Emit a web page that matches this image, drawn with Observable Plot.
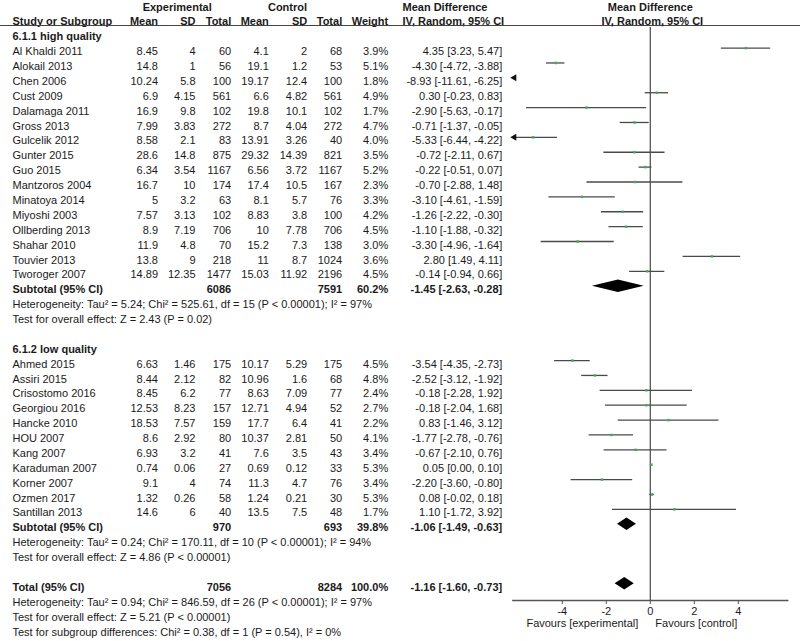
<!DOCTYPE html>
<html>
<head>
<meta charset="utf-8">
<script src="https://cdn.jsdelivr.net/npm/d3@7"></script>
<script src="https://cdn.jsdelivr.net/npm/@observablehq/plot@0.6"></script>
<style>
  html, body { margin: 0; padding: 0; background: #fff; }
  #chart { position: relative; width: 800px; height: 641px; overflow: hidden; }
  #chart svg { position: absolute; left: 0; top: 0; }
</style>
</head>
<body>
<div id="chart"></div>
<script>
// ---------- data ----------
const studies1 = ["Al Khaldi 2011","Alokail 2013","Chen 2006","Cust 2009","Dalamaga 2011","Gross 2013","Gulcelik 2012","Gunter 2015","Guo 2015","Mantzoros 2004","Minatoya 2014","Miyoshi 2003","Ollberding 2013","Shahar 2010","Touvier 2013","Tworoger 2007"];
const expMean1 = [8.45,14.8,10.24,6.9,16.9,7.99,8.58,28.6,6.34,16.7,5,7.57,8.9,11.9,13.8,14.89];
const expSD1   = [4,1,5.8,4.15,9.8,3.83,2.1,14.8,3.54,10,3.2,3.13,7.19,4.8,9,12.35];
const expN1    = [60,56,100,561,102,272,83,875,1167,174,63,102,706,70,218,1477];
const ctlMean1 = [4.1,19.1,19.17,6.6,19.8,8.7,13.91,29.32,6.56,17.4,8.1,8.83,10,15.2,11,15.03];
const ctlSD1   = [2,1.2,12.4,4.82,10.1,4.04,3.26,14.39,3.72,10.5,5.7,3.8,7.78,7.3,8.7,11.92];
const ctlN1    = [68,53,100,561,102,272,40,821,1167,167,76,100,706,138,1024,2196];
const weight1  = [3.9,5.1,1.8,4.9,1.7,4.7,4.0,3.5,5.2,2.3,3.3,4.2,4.5,3.0,3.6,4.5];
const md1      = [4.35,-4.30,-8.93,0.30,-2.90,-0.71,-5.33,-0.72,-0.22,-0.70,-3.10,-1.26,-1.10,-3.30,2.80,-0.14];
const lo1      = [3.23,-4.72,-11.61,-0.23,-5.63,-1.37,-6.44,-2.11,-0.51,-2.88,-4.61,-2.22,-1.88,-4.96,1.49,-0.94];
const hi1      = [5.47,-3.88,-6.25,0.83,-0.17,-0.05,-4.22,0.67,0.07,1.48,-1.59,-0.30,-0.32,-1.64,4.11,0.66];

const studies2 = ["Ahmed 2015","Assiri 2015","Crisostomo 2016","Georgiou 2016","Hancke 2010","HOU 2007","Kang 2007","Karaduman 2007","Korner 2007","Ozmen 2017","Santillan 2013"];
const expMean2 = [6.63,8.44,8.45,12.53,18.53,8.6,6.93,0.74,9.1,1.32,14.6];
const expSD2   = [1.46,2.12,6.2,8.23,7.57,2.92,3.2,0.06,4,0.26,6];
const expN2    = [175,82,77,157,159,80,41,27,74,58,40];
const ctlMean2 = [10.17,10.96,8.63,12.71,17.7,10.37,7.6,0.69,11.3,1.24,13.5];
const ctlSD2   = [5.29,1.6,7.09,4.94,6.4,2.81,3.5,0.12,4.7,0.21,7.5];
const ctlN2    = [175,68,77,52,41,50,43,33,76,30,48];
const weight2  = [4.5,4.8,2.4,2.7,2.2,4.1,3.4,5.3,3.4,5.3,1.7];
const md2      = [-3.54,-2.52,-0.18,-0.18,0.83,-1.77,-0.67,0.05,-2.20,0.08,1.10];
const lo2      = [-4.35,-3.12,-2.28,-2.04,-1.46,-2.78,-2.10,0.00,-3.60,-0.02,-1.72];
const hi2      = [-2.73,-1.92,1.92,1.68,3.12,-0.76,0.76,0.10,-0.80,0.18,3.92];

const pooledLabels = ["Subtotal (95% CI)","Subtotal (95% CI)","Total (95% CI)"];
const pooledExpN   = [6086,970,7056];
const pooledCtlN   = [7591,693,8284];
const pooledWeight = [60.2,39.8,100.0];
const pooledMd     = [-1.45,-1.06,-1.16];
const pooledLo     = [-2.63,-1.49,-1.60];
const pooledHi     = [-0.28,-0.63,-0.73];

const groupLabels = ["6.1.1 high quality","6.1.2 low quality"];
const statNotes1 = ["Heterogeneity: Tau\u00B2 = 5.24; Chi\u00B2 = 525.61, df = 15 (P < 0.00001); I\u00B2 = 97%","Test for overall effect: Z = 2.43 (P = 0.02)"];
const statNotes2 = ["Heterogeneity: Tau\u00B2 = 0.24; Chi\u00B2 = 170.11, df = 10 (P < 0.00001); I\u00B2 = 94%","Test for overall effect: Z = 4.86 (P < 0.00001)"];
const statNotesT = ["Heterogeneity: Tau\u00B2 = 0.94; Chi\u00B2 = 846.59, df = 26 (P < 0.00001); I\u00B2 = 97%","Test for overall effect: Z = 5.21 (P < 0.00001)","Test for subgroup differences: Chi\u00B2 = 0.38, df = 1 (P = 0.54), I\u00B2 = 0%"];

const groupHeaders = ["Experimental","Control"];
const colHeaders = ["Study or Subgroup","Mean","SD","Total","Mean","SD","Total","Weight"];
const mdTitle = ["Mean Difference","IV, Random, 95% CI"];
const axisTicks = [-4,-2,0,2,4];
const favours = ["Favours [experimental]","Favours [control]"];

// ---------- build row table ----------
const studyRows = [];
let r = 0;
const groupRowIdx = [];
const pooledRowIdx = [];
const noteRows = [];
function addGroup(names, em, es, en, cm, cs, cn, w, md, lo, hi, notes) {
  groupRowIdx.push(r); r++;
  names.forEach((n, i) => {
    studyRows.push({row: r, name: n, em: em[i], es: es[i], en: en[i], cm: cm[i], cs: cs[i], cn: cn[i], w: w[i], md: md[i], lo: lo[i], hi: hi[i]});
    r++;
  });
  pooledRowIdx.push(r); r++;
  notes.forEach(t => { noteRows.push({row: r, text: t}); r++; });
  r++; // blank
}
addGroup(studies1, expMean1, expSD1, expN1, ctlMean1, ctlSD1, ctlN1, weight1, md1, lo1, hi1, statNotes1);
addGroup(studies2, expMean2, expSD2, expN2, ctlMean2, ctlSD2, ctlN2, weight2, md2, lo2, hi2, statNotes2);
pooledRowIdx.push(r); r++;
statNotesT.forEach(t => { noteRows.push({row: r, text: t}); r++; });

const pooled = pooledLabels.map((l, i) => ({row: pooledRowIdx[i], name: l, en: pooledExpN[i], cn: pooledCtlN[i], w: pooledWeight[i], md: pooledMd[i], lo: pooledLo[i], hi: pooledHi[i]}));
const groups = groupLabels.map((g, i) => ({row: groupRowIdx[i], name: g}));

const fmtCI = d => `${d.md.toFixed(2)} [${d.lo.toFixed(2)}, ${d.hi.toFixed(2)}]`;
const fmtW = d => d.w.toFixed(1) + "%";

// ---------- layout ----------
const W = 800, H = 641;
const FONT = "Liberation Sans, Arial, Helvetica, sans-serif";
const FS = 11;
const TXT = "#1a1a1a";
const yScale = {type: "linear", domain: [0, 40], range: [36.3, 631.5], axis: null};
const colX = {name: 12, em: 157.5, es: 195, en: 230.7, cm: 268.3, cs: 306.7, cn: 341.7, w: 387.7, ci: 501.7, mdHead: 402};
const numCols = ["em","es","en","cm","cs","cn"];
const headerCols = ["em","es","en","cm","cs","cn","w"];
const groupHeaderX = [176.7, 287];

const tableMarks = [];
tableMarks.push(Plot.text(groupHeaders, {x: (d, i) => groupHeaderX[i], y: -2, text: d => d, fontWeight: "bold", textAnchor: "middle"}));
tableMarks.push(Plot.text([mdTitle[0]], {x: colX.mdHead, y: -2, text: d => d, fontWeight: "bold", textAnchor: "start"}));
tableMarks.push(Plot.text([colHeaders[0]], {x: colX.name, y: -1, text: d => d, fontWeight: "bold", textAnchor: "start"}));
tableMarks.push(Plot.text(colHeaders.slice(1), {x: (d, i) => colX[headerCols[i]], y: -1, text: d => d, fontWeight: "bold", textAnchor: "end"}));
tableMarks.push(Plot.text([mdTitle[1]], {x: colX.mdHead, y: -1, text: d => d, fontWeight: "bold", textAnchor: "start"}));
tableMarks.push(Plot.ruleY([-0.76], {x1: 0, x2: W, stroke: "#444", strokeWidth: 1.2}));
tableMarks.push(Plot.text(groups, {x: colX.name, y: "row", text: "name", fontWeight: "bold", textAnchor: "start"}));
tableMarks.push(Plot.text(studyRows, {x: colX.name, y: "row", text: "name", textAnchor: "start"}));
numCols.forEach(c => tableMarks.push(Plot.text(studyRows, {x: colX[c], y: "row", text: d => String(d[c]), textAnchor: "end"})));
tableMarks.push(Plot.text(studyRows, {x: colX.w, y: "row", text: fmtW, textAnchor: "end"}));
tableMarks.push(Plot.text(studyRows, {x: colX.ci, y: "row", text: fmtCI, textAnchor: "end"}));
tableMarks.push(Plot.text(pooled, {x: colX.name, y: "row", text: "name", fontWeight: "bold", textAnchor: "start"}));
tableMarks.push(Plot.text(pooled, {x: colX.en, y: "row", text: d => String(d.en), fontWeight: "bold", textAnchor: "end"}));
tableMarks.push(Plot.text(pooled, {x: colX.cn, y: "row", text: d => String(d.cn), fontWeight: "bold", textAnchor: "end"}));
tableMarks.push(Plot.text(pooled, {x: colX.w, y: "row", text: fmtW, fontWeight: "bold", textAnchor: "end"}));
tableMarks.push(Plot.text(pooled, {x: colX.ci, y: "row", text: fmtCI, fontWeight: "bold", textAnchor: "end"}));
tableMarks.push(Plot.text(noteRows, {x: colX.name, y: "row", text: "text", textAnchor: "start"}));

const table = Plot.plot({
  width: W, height: H, margin: 0,
  style: {fontFamily: FONT, fontSize: FS + "px", color: TXT, background: "transparent"},
  x: {type: "identity"},
  y: yScale,
  marks: tableMarks
});

// ---------- forest plot ----------
const LIM = 6.25;
const OFF = -3.6;
const visible = studyRows.filter(d => d.hi > -LIM && d.lo < LIM);
const clippedLeft = studyRows.filter(d => d.lo < -LIM);
const diamonds = pooled.flatMap((d, i) => [
  {g: i, x: d.lo, y1: d.row, y2: d.row},
  {g: i, x: d.md, y1: d.row - 0.42, y2: d.row + 0.42},
  {g: i, x: d.hi, y1: d.row, y2: d.row}
]);

const forest = Plot.plot({
  width: W, height: H,
  marginTop: 27, marginBottom: 41, marginLeft: 512.3, marginRight: 12.7,
  style: {fontFamily: FONT, fontSize: FS + "px", color: TXT, background: "transparent"},
  x: {domain: [-LIM, LIM]},
  y: yScale,
  marks: [
    Plot.ruleX([0], {stroke: "#555", strokeWidth: 1.3}),
    Plot.frame({anchor: "bottom", stroke: "#555", strokeWidth: 1.3}),
    Plot.axisX({ticks: axisTicks, tickSize: 4, tickPadding: 3, tickFormat: d => String(d), label: null, stroke: "#555", fontSize: FS}),
    Plot.text([favours[0]], {x: 0, frameAnchor: "bottom", dy: 26, dx: -12, text: d => d, textAnchor: "end"}),
    Plot.text([favours[1]], {x: 0, frameAnchor: "bottom", dy: 26, dx: 5, text: d => d, textAnchor: "start"}),
    Plot.text([mdTitle[0]], {x: 0, y: -2, text: d => d, fontWeight: "bold", textAnchor: "middle"}),
    Plot.text([mdTitle[1]], {x: 0, y: -1, text: d => d, fontWeight: "bold", textAnchor: "middle", dx: 2}),
    Plot.ruleY(visible, {y: "row", x1: d => Math.max(d.lo, -LIM), x2: d => Math.min(d.hi, LIM), stroke: "#4a4a4a", strokeWidth: 1.3, dy: OFF}),
    Plot.dot(clippedLeft, {x: () => -LIM, y: "row", symbol: "triangle", rotate: -90, r: 2.6, fill: "#111", stroke: "none", dx: 1.5, dy: OFF}),
    Plot.dot(visible.filter(d => d.md > -LIM), {x: "md", y: "row", symbol: "square", r: 1.4, fill: "#3db04a", stroke: "none", dy: OFF}),
    Plot.areaY(diamonds, {x: "x", y1: "y1", y2: "y2", z: "g", fill: "#000", curve: "linear", dy: OFF})
  ]
});

const el = document.getElementById("chart");
el.appendChild(table);
el.appendChild(forest);
</script>
</body>
</html>
